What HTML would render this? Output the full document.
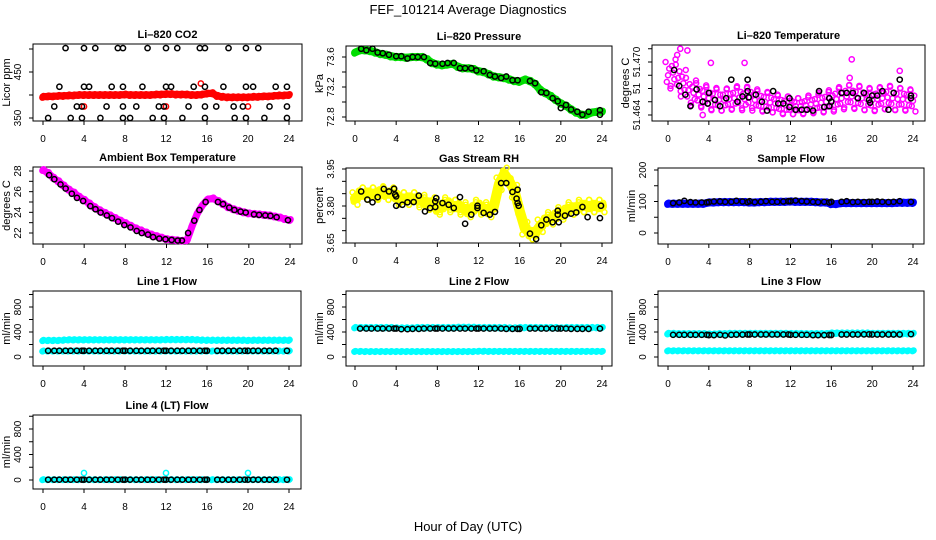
<!DOCTYPE html>
<html><head><meta charset="utf-8"><style>
html,body{margin:0;padding:0;background:#fff;}
svg{display:block;font-family:"Liberation Sans",sans-serif;}
</style></head><body>
<svg id="chart" width="936" height="540" viewBox="0 0 936 540" xmlns="http://www.w3.org/2000/svg">
<rect x="0" y="0" width="936" height="540" fill="#fff"/>
<text x="468" y="14" font-size="13" text-anchor="middle">FEF_101214  Average Diagnostics</text>
<text x="468" y="531" font-size="13" text-anchor="middle">Hour of Day (UTC)</text>
</svg>
<script>
// ---------- data ----------
const bandHours=[0,0.5,1,1.5,2,2.5,3,3.5,4,4.5,5,5.5,6,6.5,7,7.5,8,8.5,9,9.5,10,10.5,11,11.5,12,12.5,13,13.5,14,14.5,15,15.5,16,16.5,17,17.5,18,18.5,19,19.5,20,20.5,21,21.5,22,22.5,23,23.5,24];
const flowHours=[0.5,1.1,1.6,2.2,2.7,3.3,3.8,4.0,4.5,5.1,5.6,6.2,6.7,7.3,7.8,8.0,8.5,9.1,9.6,10.2,10.7,11.3,11.8,12.0,12.5,13.1,13.6,14.2,14.7,15.3,15.8,16.0,17.0,17.5,18.1,18.6,19.2,19.7,20.0,20.5,21.0,21.6,22.1,22.7,23.8];

// CO2
const co2Band=[396,397,397,398,398,399,399,400,400,400,400,400,400,400,400,400,401,400,400,400,400,400,401,401,402,402,401,401,401,400,400,401,403,404,398,396,395,395,395,395,395,396,396,397,397,398,399,399,400];
const co2ExtraHours=[4.0,12.0,15.4,20.0];
const co2ExtraVals=[375,375,425,375];
const co2BlackHours=[2.2,4.0,5.1,7.3,7.8,10.2,12.0,13.1,15.3,15.8,18.1,19.8,21.0,1.6,4.0,4.5,6.7,7.8,9.7,12.0,12.5,14.7,15.8,17.6,19.8,20.5,22.7,23.8,1.1,3.3,3.8,6.2,7.8,9.1,11.3,11.8,14.2,15.8,16.9,18.6,19.5,22.1,23.8,0.5,2.7,3.8,5.6,7.8,8.5,10.7,11.8,13.6,15.8,18.7,19.8,21.6,23.8];
const co2BlackVals=[502,502,502,502,502,502,502,502,502,502,502,502,502,418,418,418,418,418,418,418,418,418,418,418,418,418,418,418,375,375,375,375,375,375,375,375,375,375,375,375,375,375,375,350,350,350,350,350,350,350,350,350,350,350,350,350,350];

// Pressure
const presBand=[73.66,73.69,73.69,73.68,73.66,73.64,73.63,73.61,73.6,73.6,73.59,73.6,73.6,73.6,73.57,73.52,73.5,73.49,73.5,73.51,73.47,73.45,73.45,73.44,73.41,73.4,73.37,73.34,73.33,73.32,73.3,73.28,73.27,73.3,73.28,73.24,73.16,73.12,73.08,73.03,72.98,72.95,72.9,72.86,72.83,72.83,72.86,72.87,72.87];
const presBlackHours=[0.6,1.1,1.7,2.2,2.7,3.3,4.0,4.5,5.1,5.6,6.1,6.7,7.3,7.8,8.5,9.0,9.6,10.2,10.7,11.3,11.8,12.5,13.1,13.6,14.2,14.7,15.3,15.8,17.0,17.5,18.1,18.6,19.2,19.7,20.0,20.5,21.0,21.6,22.1,22.7,23.8,23.8];
const presBlackVals=[73.71,73.69,73.71,73.66,73.65,73.63,73.61,73.61,73.58,73.6,73.6,73.6,73.52,73.51,73.51,73.52,73.52,73.45,73.45,73.45,73.42,73.41,73.36,73.34,73.32,73.34,73.29,73.29,73.28,73.25,73.13,73.12,73.05,73.01,72.92,72.96,72.9,72.87,72.83,72.87,72.89,72.83];

// Li-820 temperature
const tempBand=[51.4685,51.4688,51.4682,51.4676,51.4668,51.4665,51.4663,51.4661,51.4659,51.4658,51.4657,51.4657,51.4658,51.4659,51.4660,51.4658,51.4660,51.4657,51.4656,51.4655,51.4654,51.4653,51.4652,51.4651,51.4651,51.4650,51.4650,51.4651,51.4652,51.4653,51.4654,51.4655,51.4656,51.4658,51.4659,51.4661,51.4661,51.4660,51.4659,51.4658,51.4657,51.4658,51.4659,51.4660,51.4659,51.4658,51.4658,51.4657,51.4656];
const tempSpread=[0.0030,0.0030,0.0030,0.0030,0.0028,0.0028,0.0026,0.0025,0.0025,0.0025,0.0024,0.0024,0.0024,0.0024,0.0025,0.0025,0.0024,0.0024,0.0022,0.0022,0.0022,0.0020,0.0020,0.0020,0.0020,0.0018,0.0018,0.0018,0.0020,0.0020,0.0022,0.0022,0.0024,0.0024,0.0025,0.0025,0.0026,0.0026,0.0026,0.0025,0.0025,0.0025,0.0025,0.0026,0.0026,0.0025,0.0024,0.0024,0.0024];
const tempExtraHours=[1.2,1.9,4.2,7.5,18.0,22.7,3.4,0.9,17.8];
const tempExtraVals=[51.4715,51.4713,51.4699,51.4699,51.4703,51.4690,51.4640,51.4708,51.4682];
const tempBlackHours=[0.6,1.1,1.7,2.2,2.8,3.4,3.9,4.0,4.6,5.1,5.7,6.2,6.8,7.3,7.8,7.8,7.9,8.6,9.2,9.7,10.3,10.8,11.3,11.9,11.9,12.5,13.1,13.6,14.2,14.8,15.3,15.8,15.8,16.0,17.0,17.5,18.1,18.6,19.2,19.7,19.8,20.0,20.5,21.0,21.6,22.1,22.7,23.8,23.8];
const tempBlackVals=[51.4691,51.4673,51.4663,51.4650,51.4669,51.4655,51.4653,51.4665,51.4657,51.4650,51.4659,51.4680,51.4655,51.4661,51.4680,51.4667,51.4660,51.4663,51.4655,51.4645,51.4667,51.4653,51.4653,51.4649,51.4659,51.4646,51.4646,51.4646,51.4645,51.4667,51.4649,51.4650,51.4659,51.4655,51.4665,51.4665,51.4665,51.4659,51.4665,51.4657,51.4654,51.4662,51.4662,51.4667,51.4646,51.4665,51.4680,51.4659,51.4662];

// Ambient box temperature
const ambBand=[28.1,27.8,27.35,27.0,26.6,26.2,25.9,25.5,25.2,24.85,24.5,24.2,23.95,23.7,23.45,23.2,22.95,22.7,22.45,22.25,22.05,21.85,21.7,21.55,21.4,21.35,21.3,21.25,21.3,22.7,23.9,24.7,25.25,25.35,25.1,24.8,24.5,24.3,24.15,24.0,23.9,23.85,23.8,23.75,23.7,23.6,23.5,23.35,23.25];
const ambBlackHours=[0.6,1.1,1.7,2.2,2.8,3.3,3.9,4.6,5.1,5.6,6.2,6.7,7.3,7.9,8.5,9.1,9.6,10.2,10.7,11.3,11.9,12.5,13.1,13.5,14.1,14.7,15.2,15.8,17.0,17.5,18.1,18.6,19.2,19.7,20.5,21.0,21.6,22.1,22.7,23.8];
const ambBlackVals=[27.6,27.2,26.7,26.3,25.8,25.4,25.1,24.6,24.3,23.98,23.7,23.44,23.1,22.77,22.54,22.2,22.0,21.84,21.6,21.46,21.4,21.33,21.27,21.27,22.0,23.2,24.23,25.0,25.0,24.8,24.46,24.23,24.07,23.98,23.8,23.75,23.7,23.66,23.53,23.24];

// Gas stream RH
const rhBand=[3.83,3.85,3.85,3.85,3.85,3.855,3.85,3.85,3.84,3.83,3.83,3.83,3.83,3.82,3.81,3.81,3.79,3.80,3.81,3.80,3.80,3.79,3.78,3.79,3.80,3.79,3.78,3.80,3.89,3.93,3.90,3.86,3.78,3.71,3.69,3.69,3.72,3.74,3.75,3.76,3.77,3.78,3.79,3.79,3.80,3.80,3.80,3.80,3.80];
const rhBlackHours=[0.6,1.2,1.7,2.2,2.8,3.3,3.8,3.9,4.0,4.0,4.6,5.1,5.7,6.2,6.8,7.3,7.8,7.8,7.9,8.5,9.1,9.6,10.2,10.7,11.3,11.9,11.9,12.5,13.1,13.6,14.2,14.7,15.3,15.8,15.7,15.8,15.9,17.0,17.6,18.1,18.6,19.2,19.7,19.7,19.8,20.4,21.0,21.5,22.1,22.6,23.8,23.9];
const rhBlackVals=[3.859,3.826,3.815,3.836,3.869,3.859,3.870,3.846,3.839,3.801,3.805,3.815,3.816,3.842,3.778,3.792,3.796,3.819,3.832,3.812,3.805,3.792,3.836,3.728,3.765,3.801,3.792,3.772,3.765,3.776,3.893,3.893,3.857,3.866,3.830,3.812,3.801,3.688,3.666,3.722,3.745,3.734,3.781,3.765,3.734,3.761,3.769,3.774,3.796,3.755,3.751,3.801];

// Sample flow
const sampleBand=[93,93,93,93,93,93,93,93,97,97,98,98,98,98,98,98,97,97,98,98,99,99,99,99,100,99,99,99,99,98,97,97,92,92,95,95,95,95,95,95,95,95,95,95,95,96,96,96,96];
const sampleBlack=[95,97,102,98,97,97,97,98,100,100,99,99,102,100,98,101,98,99,101,99,99,100,101,101,103,101,100,99,98,99,97,99,99,101,98,99,98,99,99,100,99,98,99,101,99];

// Line flows
const line1Upper=[265,265,265,265,270,275,275,275,275,275,275,275,275,275,275,275,275,275,275,275,275,275,275,275,278,278,278,278,278,278,275,270,268,268,268,268,268,268,268,268,265,268,268,268,268,268,268,268,268];
const line1Lower=[95,95,95,95,95,95,95,95,95,95,95,95,95,95,95,95,95,95,95,95,95,95,95,95,95,95,95,95,95,95,95,95,95,95,95,95,95,95,95,95,95,95,95,95,95,95,95,95,95];
const line1Black=[100,100,100,100,100,100,100,100,100,100,100,100,100,100,100,100,100,100,100,100,100,100,100,100,100,100,100,100,100,100,100,100,100,100,100,100,100,100,100,100,100,100,100,100,100];
const line2Upper=[470,470,470,470,470,470,470,470,465,465,465,465,470,470,470,470,470,470,470,470,475,475,475,475,470,470,470,470,470,470,465,465,470,470,470,470,470,470,470,470,465,470,470,470,470,470,470,470,470];
const line2Lower=[90,90,88,88,88,88,88,88,88,88,88,88,88,88,88,88,88,88,88,88,88,88,88,88,92,92,90,90,90,90,90,90,90,90,90,90,90,90,90,90,90,90,90,90,90,90,90,90,90];
const line2Black=[455,455,455,455,455,455,455,455,445,445,450,450,455,455,455,455,455,455,455,455,455,455,455,455,455,455,455,455,450,450,450,450,455,455,455,455,455,455,455,455,450,450,450,450,455];
const line3Upper=[375,375,370,370,370,370,370,370,365,365,370,370,375,375,375,375,375,375,375,375,375,375,375,375,372,372,372,370,370,370,370,370,380,380,380,380,380,380,380,380,375,375,375,375,375,375,375,375,375];
const line3Lower=[100,100,100,100,100,100,100,100,100,100,100,100,100,100,100,100,100,100,100,100,100,100,100,100,100,100,100,100,100,100,100,100,100,100,100,100,100,100,100,100,100,100,100,100,100,100,100,100,100];
const line3Black=[355,355,355,355,355,355,355,350,350,355,345,355,358,358,360,360,360,360,360,360,360,360,360,355,355,355,355,350,350,350,352,352,360,360,360,360,362,362,360,360,360,360,360,360,365];
const line4Band=[5,5,5,5,5,5,5,5,5,5,5,5,5,5,5,5,5,5,5,5,5,5,5,5,5,5,5,5,5,5,5,5,5,5,5,5,5,5,5,5,5,5,5,5,5,5,5,5,5];
const line4ExtraHours=[4.0,12.0,20.0];
const line4ExtraVals=[110,110,110];
const line4Black=[5,5,5,5,5,5,5,5,5,5,5,5,5,5,5,5,5,5,5,5,5,5,5,5,5,5,5,5,5,5,5,5,5,5,5,5,5,5,5,5,5,5,5,5,5];

// axis tick values / labels
const hourTicks=[0,4,8,12,16,20,24];
const co2Ticks=[350,400,450,500], co2Labels=['350','','450',''];
const presTicks=[72.8,73.0,73.2,73.4,73.6], presLabels=['72.8','','73.2','','73.6'];
const tempTicks=[51.464,51.4655,51.467,51.4685,51.470,51.4715], tempLabels=['51.464','','51','','51.470',''];
const ambTicks=[22,23,24,25,26,27,28], ambLabels=['22','','24','','26','','28'];
const rhTicks=[3.65,3.70,3.75,3.80,3.85,3.90,3.95], rhLabels=['3.65','','','3.80','','','3.95'];
const sampleTicks=[0,50,100,150,200], sampleLabels=['0','','100','','200'];
const flowTicks=[0,200,400,600,800,1000], flowLabels=['0','','400','','800',''];

// ---------- drawing ----------
const NS='http://www.w3.org/2000/svg';
const svg=document.getElementById('chart');
function mk(tag,attrs,parent){const e=document.createElementNS(NS,tag);for(const k in attrs)e.setAttribute(k,attrs[k]);(parent||svg).appendChild(e);return e;}

function makePanel(name,c){
  const g=mk('g',{});
  
  
  const xs=h=>c.x0+(c.x24-c.x0)*h/24;
  const ys=v=>c.y1+(v-c.v1)*(c.y2-c.y1)/(c.v2-c.v1);
  const box=mk('rect',{x:c.l,y:c.t,width:c.r-c.l,height:c.b-c.t,fill:'none',stroke:'#000','stroke-width':1},g);
  
  
  const title=mk('text',{x:(c.l+c.r)/2,y:c.t-6,'font-size':11,'font-weight':'bold','text-anchor':'middle'},g);
  title.textContent=c.title;
  
  
  const xa=mk('g',{},g);
  
  
  mk('line',{x1:xs(0),x2:xs(24),y1:c.b,y2:c.b,stroke:'#000'},xa);
  hourTicks.forEach(h=>{
    mk('line',{x1:xs(h),x2:xs(h),y1:c.b,y2:c.b+4,stroke:'#000'},xa);
    const t=mk('text',{x:xs(h),y:c.b+21,'font-size':10,'text-anchor':'middle'},xa);
    t.textContent=String(h);
    
    
  });
  const ya=mk('g',{},g);
  
  
  mk('line',{x1:c.l,x2:c.l,y1:ys(c.ticks[0]),y2:ys(c.ticks[c.ticks.length-1]),stroke:'#000'},ya);
  c.ticks.forEach((v,i)=>{
    const y=ys(v);
    mk('line',{x1:c.l-4,x2:c.l,y1:y,y2:y,stroke:'#000'},ya);
    if(c.labels[i]){
      const t=mk('text',{x:c.l-12,y:y,'font-size':10,'text-anchor':'middle',transform:`rotate(-90 ${c.l-12} ${y})`},ya);
      t.textContent=c.labels[i];
      
      
    }
  });
  const yt=mk('text',{x:c.l-23,y:(c.t+c.b)/2,'font-size':11,'text-anchor':'middle',transform:`rotate(-90 ${c.l-23} ${(c.t+c.b)/2})`},g);
  yt.textContent=c.ylab;
  
  
  return {g,xs,ys};
}

function band(P,name,hours,vals,spread,color,scatter,lineSpread){
  const s=mk('g',{},P.g);
  
  
  const sp=i=>Array.isArray(spread)?spread[i]:spread;
  if(!scatter || lineSpread){
    const pts=hours.map((h,i)=>P.xs(h)+','+P.ys(vals[i])).join(' ');
    const ls=lineSpread||sp(0);
    const w=Math.abs(P.ys(0)-P.ys(ls));
    mk('polyline',{points:pts,fill:'none',stroke:color,'stroke-width':w+4,'stroke-linejoin':'round','stroke-linecap':'round'},s);
  }
  const offs=scatter?[-1,-0.5,0,0.5,1]:[-0.5,0,0.5];
  hours.forEach((h,i)=>{
    offs.forEach((k,j)=>{
      const dx=scatter?((i+j)%2?0.12:-0.12)*k*2:0.12*k;
      const c=mk('circle',{cx:P.xs(h+dx),cy:P.ys(vals[i]+k*sp(i)/2),r:2.5,fill:'none',stroke:color,'stroke-width':1.5},s);
      
      
    });
  });
}
function points(P,name,hours,vals,color){
  const s=mk('g',{},P.g);
  
  
  hours.forEach((h,i)=>{
    const c=mk('circle',{cx:P.xs(h),cy:P.ys(vals[i]),r:2.6,fill:'none',stroke:color,'stroke-width':1.5},s);
    
    
  });
}

// Panel 1: CO2
let P=makePanel('co2',{l:33,r:302,t:44,b:121,x0:43,x24:289,v1:350,y1:118,v2:500,y2:49,ticks:co2Ticks,labels:co2Labels,title:'Li\u2013820 CO2',ylab:'Licor ppm'});
band(P,'co2-band',bandHours,co2Band,7,'#ff0000');
points(P,'co2-red-outliers',co2ExtraHours,co2ExtraVals,'#ff0000');
points(P,'co2-hourly-averages',co2BlackHours,co2BlackVals,'#000');

// Panel 2: Pressure
P=makePanel('pressure',{l:346,r:612,t:46,b:121,x0:355,x24:602,v1:72.8,y1:117,v2:73.6,y2:57,ticks:presTicks,labels:presLabels,title:'Li\u2013820 Pressure',ylab:'kPa'});
band(P,'pressure-band',bandHours,presBand,0.05,'#00dd00');
points(P,'pressure-hourly-averages',presBlackHours,presBlackVals,'#000');

// Panel 3: Li-820 temperature
P=makePanel('li820-temp',{l:652,r:925,t:45,b:121,x0:668,x24:913,v1:51.464,y1:115,v2:51.470,y2:62,ticks:tempTicks,labels:tempLabels,title:'Li\u2013820 Temperature',ylab:'degrees C'});
band(P,'li820-temp-scatter',bandHours,tempBand,tempSpread,'#ff00ff',true);
points(P,'li820-temp-outliers',tempExtraHours,tempExtraVals,'#ff00ff');
points(P,'li820-temp-hourly-averages',tempBlackHours,tempBlackVals,'#000');

// Panel 4: Ambient
P=makePanel('ambient-temp',{l:33,r:302,t:167,b:244,x0:43,x24:290,v1:22,y1:233,v2:28,y2:171,ticks:ambTicks,labels:ambLabels,title:'Ambient Box Temperature',ylab:'degrees C'});
band(P,'ambient-temp-band',bandHours,ambBand,0.3,'#ff00ff');
points(P,'ambient-temp-hourly-averages',ambBlackHours,ambBlackVals,'#000');

// Panel 5: RH
P=makePanel('gas-rh',{l:346,r:612,t:168,b:243,x0:355,x24:602,v1:3.65,y1:243,v2:3.95,y2:169,ticks:rhTicks,labels:rhLabels,title:'Gas Stream RH',ylab:'percent'});
band(P,'gas-rh-band',bandHours,rhBand,0.05,'#ffff00',true,0.025);
points(P,'gas-rh-hourly-averages',rhBlackHours,rhBlackVals,'#000');

// Panel 6: Sample flow
P=makePanel('sample-flow',{l:658,r:924,t:168,b:244,x0:668,x24:913,v1:0,y1:233,v2:200,y2:170,ticks:sampleTicks,labels:sampleLabels,title:'Sample Flow',ylab:'ml/min'});
band(P,'sample-flow-band',bandHours,sampleBand,12,'#0000ff');
points(P,'sample-flow-hourly-averages',flowHours,sampleBlack,'#000');

// Panels 7-9: Line flows
P=makePanel('line1-flow',{l:33,r:301,t:291,b:366,x0:43,x24:289,v1:0,y1:357,v2:800,y2:307,ticks:flowTicks,labels:flowLabels,title:'Line 1 Flow',ylab:'ml/min'});
band(P,'line1-upper-band',bandHours,line1Upper,30,'#00ffff');
band(P,'line1-lower-band',bandHours,line1Lower,20,'#00ffff');
points(P,'line1-hourly-averages',flowHours,line1Black,'#000');

P=makePanel('line2-flow',{l:346,r:612,t:291,b:366,x0:355,x24:602,v1:0,y1:357,v2:800,y2:307,ticks:flowTicks,labels:flowLabels,title:'Line 2 Flow',ylab:'ml/min'});
band(P,'line2-upper-band',bandHours,line2Upper,30,'#00ffff');
band(P,'line2-lower-band',bandHours,line2Lower,20,'#00ffff');
points(P,'line2-hourly-averages',flowHours,line2Black,'#000');

P=makePanel('line3-flow',{l:658,r:924,t:291,b:366,x0:668,x24:913,v1:0,y1:357,v2:800,y2:307,ticks:flowTicks,labels:flowLabels,title:'Line 3 Flow',ylab:'ml/min'});
band(P,'line3-upper-band',bandHours,line3Upper,40,'#00ffff');
band(P,'line3-lower-band',bandHours,line3Lower,20,'#00ffff');
points(P,'line3-hourly-averages',flowHours,line3Black,'#000');

// Panel 10: Line 4
P=makePanel('line4-flow',{l:33,r:301,t:415,b:489,x0:43,x24:289,v1:0,y1:480,v2:800,y2:429,ticks:flowTicks,labels:flowLabels,title:'Line 4 (LT) Flow',ylab:'ml/min'});
band(P,'line4-band',bandHours,line4Band,20,'#00ffff');
points(P,'line4-spikes',line4ExtraHours,line4ExtraVals,'#00ffff');
points(P,'line4-hourly-averages',flowHours,line4Black,'#000');
</script>
</body></html>
